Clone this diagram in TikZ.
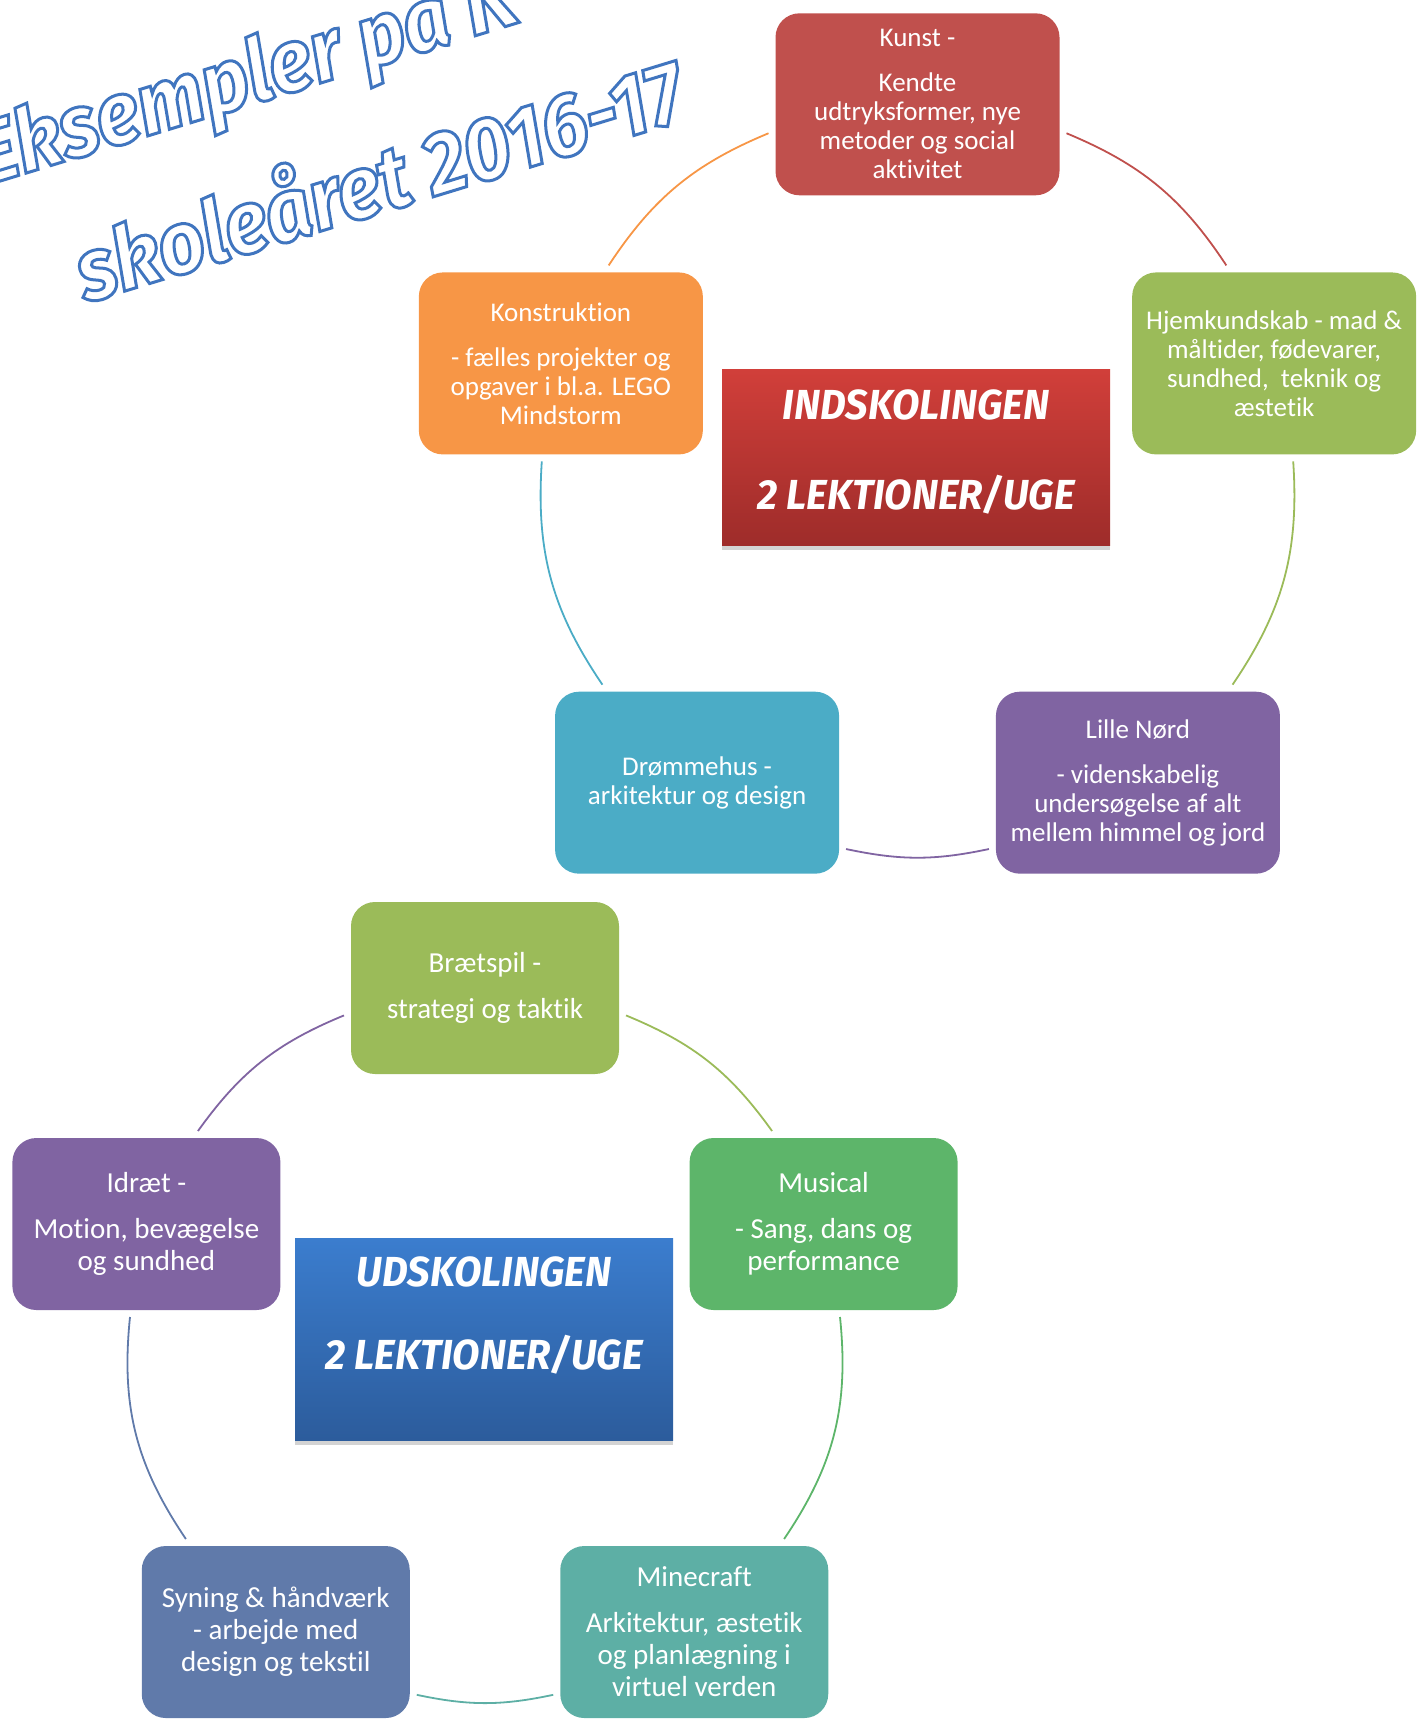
\documentclass[tikz,border=0pt]{standalone}
\usepackage{fontspec}
\setmainfont{Carlito}[Ligatures=NoCommon]
\newfontfamily\skitsefont{Fira Sans}[FakeStretch=0.95]
\newfontfamily\titelfont{Fira Sans}[FakeStretch=0.92]
\usepackage{tikz}
\usetikzlibrary{shadows}

\definecolor{kunstrod}{HTML}{C0504D}
\definecolor{hjemgron}{HTML}{9BBB59}
\definecolor{konstorange}{HTML}{F79646}
\definecolor{drommeblaa}{HTML}{4BACC6}
\definecolor{lillelilla}{HTML}{8064A2}
\definecolor{musicalgron}{HTML}{5DB56A}
\definecolor{minecraftgron}{HTML}{5DAFA5}
\definecolor{syningblaa}{HTML}{607AAA}
\definecolor{indtop}{HTML}{D13F3A}
\definecolor{indbund}{HTML}{9E2C2A}
\definecolor{udtop}{HTML}{3B7DCE}
\definecolor{udbund}{HTML}{2C5C9C}

% hvid tekst med blaa kant
\newcommand{\omrids}[1]{\special{pdf:literal direct 0.25 0.46 0.75 RG 3 w 2 Tr}#1\special{pdf:literal direct 0 Tr}}

\begin{document}
\begin{tikzpicture}[x=1pt, y=1pt]
  \tikzset{FagStyle/.style = {shape          = rectangle,
                              rounded corners = 24pt,
                              text           = white,
                              align          = center,
                              inner sep      = 0pt,
                              outer sep      = 7pt,
                              minimum width  = 284pt,
                              minimum height = 182pt,
                              font           = \fontsize{27}{29}\selectfont}}
  \tikzset{UdFagStyle/.style = {FagStyle,
                              minimum width  = 268pt,
                              minimum height = 172pt,
                              font           = \fontsize{29}{32}\selectfont}}
  \tikzset{SkoleStyle/.style = {shape          = rectangle,
                              text           = white,
                              align          = center,
                              inner sep      = 0pt,
                              drop shadow    = {shadow xshift=0pt, shadow yshift=-5pt, opacity=0.35}}}
  \tikzset{TitelStyle/.style = {anchor = base west, rotate = 17, inner sep = 0pt, text = white,
                              font = \titelfont\bfseries\itshape\fontsize{88}{88}\selectfont}}
  \tikzset{BueStyle/.style = {line width = 1.8pt}}

  \useasboundingbox (0,0) rectangle (1423,-1719);

  %%% OVERSKRIFT %%%
  \node[TitelStyle] (titel1) at (-16,-186) {\omrids{Eksempler på K}};
  \node[TitelStyle] (titel2) at (86,-303) {\omrids{skoleåret 2016-17}};

  %%% INDSKOLINGEN %%%
  \coordinate (c1) at (917.5,-479.3);
  \node[FagStyle, fill=kunstrod] (kunst) at ([shift={(90:375)}]c1)
    {Kunst -\\[16pt]Kendte\\udtryksformer, nye\\metoder og social\\aktivitet};
  \node[FagStyle, fill=hjemgron] (hjem) at ([shift={(18:375)}]c1)
    {Hjemkundskab - mad \&\\måltider, fødevarer,\\sundhed, \ teknik og\\æstetik};
  \node[FagStyle, fill=lillelilla] (lille) at ([shift={(-54:375)}]c1)
    {Lille Nørd\\[16pt]- videnskabelig\\undersøgelse af alt\\mellem himmel og jord};
  \node[FagStyle, fill=drommeblaa] (droem) at ([shift={(-126:375)}]c1)
    {Drømmehus -\\arkitektur og design};
  \node[FagStyle, fill=konstorange] (konst) at ([shift={(162:375)}]c1)
    {Konstruktion\\[16pt]- fælles projekter og\\opgaver i bl.a. LEGO\\Mindstorm};

  \draw[BueStyle, kunstrod]    (kunst.-11) to[bend left=17] (hjem.116);
  \draw[BueStyle, hjemgron]    (hjem.-79)  to[bend left=19] (lille.46);
  \draw[BueStyle, lillelilla]  (lille.204) to[bend left=12] (droem.-24);
  \draw[BueStyle, drommeblaa]  (droem.134) to[bend left=19] (konst.-101);
  \draw[BueStyle, konstorange] (konst.64)  to[bend left=17] (kunst.191);

  \node[SkoleStyle, minimum width=388pt, minimum height=176pt, text depth=14pt,
        top color=indtop, bottom color=indbund,
        font=\skitsefont\bfseries\itshape\fontsize{42}{90}\selectfont] (ind) at (916,-457)
    {INDSKOLINGEN\\2 LEKTIONER/UGE};

  %%% UDSKOLINGEN %%%
  \coordinate (c2) at (485,-1344);
  \node[UdFagStyle, fill=hjemgron] (braet) at ([shift={(90:356)}]c2)
    {Brætspil -\\[14pt]strategi og taktik};
  \node[UdFagStyle, fill=musicalgron] (musical) at ([shift={(338.6,120)}]c2)
    {Musical\\[14pt]- Sang, dans og\\performance};
  \node[UdFagStyle, fill=minecraftgron] (minecraft) at ([shift={(-54:356)}]c2)
    {Minecraft\\[14pt]Arkitektur, æstetik\\og planlægning i\\virtuel verden};
  \node[UdFagStyle, fill=syningblaa] (syning) at ([shift={(-126:356)}]c2)
    {Syning \& håndværk\\- arbejde med\\design og tekstil};
  \node[UdFagStyle, fill=lillelilla] (idraet) at ([shift={(-338.6,120)}]c2)
    {Idræt -\\[14pt]Motion, bevægelse\\og sundhed};

  \draw[BueStyle, hjemgron]      (braet.-11)     to[bend left=16] (musical.119);
  \draw[BueStyle, musicalgron]   (musical.-80)   to[bend left=20] (minecraft.46);
  \draw[BueStyle, minecraftgron] (minecraft.204) to[bend left=12] (syning.-24);
  \draw[BueStyle, syningblaa]    (syning.134)    to[bend left=20] (idraet.-100);
  \draw[BueStyle, lillelilla]    (idraet.61)     to[bend left=16] (braet.191);

  \node[SkoleStyle, minimum width=378pt, minimum height=202pt, text depth=52pt,
        top color=udtop, bottom color=udbund,
        font=\skitsefont\bfseries\itshape\fontsize{42}{83}\selectfont] (ud) at (484,-1339)
    {UDSKOLINGEN\\2 LEKTIONER/UGE};
\end{tikzpicture}
\end{document}
